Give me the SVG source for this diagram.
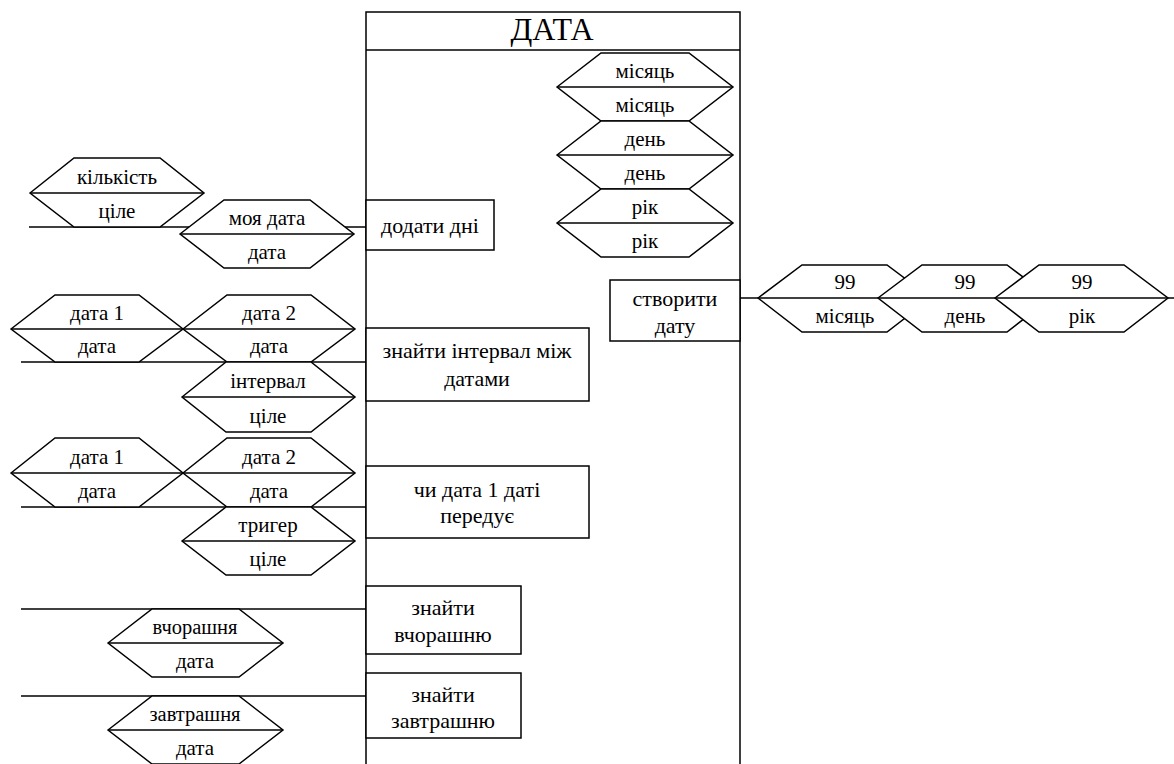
<svg xmlns="http://www.w3.org/2000/svg" width="1174" height="764" viewBox="0 0 1174 764">
  <style>
    .ln { stroke: #000; stroke-width: 1.5; fill: none; }
    .hex { stroke: #000; stroke-width: 1.5; fill: #fff; stroke-linejoin: miter; }
    .box { stroke: #000; stroke-width: 1.5; fill: #fff; }
    text { font-family: "Liberation Serif", "Times New Roman", "DejaVu Serif", serif; font-size: 21px; fill: #000; text-anchor: middle; }
    .title { font-size: 32px; }
    .bx { font-size: 22px; }
    .sm { font-size: 20.5px; }
  </style>

  <!-- class frame -->
  <g id="class-date">
    <rect class="box" x="366" y="12" width="374" height="780"/>
    <line class="ln" x1="366" y1="50" x2="740" y2="50"/>
    <text class="title" x="552" y="40">ДАТА</text>
  </g>

  <!-- connectors -->
  <g id="connectors">
    <line class="ln" x1="29" y1="227" x2="366" y2="227"/>
    <line class="ln" x1="21" y1="362" x2="366" y2="362"/>
    <line class="ln" x1="21" y1="507" x2="366" y2="507"/>
    <line class="ln" x1="21" y1="609" x2="366" y2="609"/>
    <line class="ln" x1="21" y1="696" x2="366" y2="696"/>
    <line class="ln" x1="740" y1="298" x2="1174" y2="298"/>
  </g>

  <!-- attributes -->
  <g id="attr-month">
    <polygon class="hex" points="557,87 601,53 689,53 733,87 689,121 601,121"/>
    <line class="ln" x1="557" y1="87" x2="733" y2="87"/>
    <text x="645" y="78">місяць</text>
    <text x="645" y="112">місяць</text>
  </g>
  <g id="attr-day">
    <polygon class="hex" points="557,155 601,121 689,121 733,155 689,189 601,189"/>
    <line class="ln" x1="557" y1="155" x2="733" y2="155"/>
    <text x="645" y="146">день</text>
    <text x="645" y="180">день</text>
  </g>
  <g id="attr-year">
    <polygon class="hex" points="557,223 601,189 689,189 733,223 689,257 601,257"/>
    <line class="ln" x1="557" y1="223" x2="733" y2="223"/>
    <text x="645" y="214">рік</text>
    <text x="645" y="248">рік</text>
  </g>

  <!-- додати дні -->
  <g id="add-days">
    <rect class="box" x="366" y="200" width="128" height="50"/>
    <text class="bx" x="430" y="233">додати дні</text>
  </g>
  <g id="param-count">
    <polygon class="hex" points="30,193 74,158 160,158 204,193 160,227 74,227"/>
    <line class="ln" x1="30" y1="193" x2="204" y2="193"/>
    <text x="117" y="184">кількість</text>
    <text x="117" y="218">ціле</text>
  </g>
  <g id="param-my-date">
    <polygon class="hex" points="180,234 224,200 310,200 354,234 310,268 224,268"/>
    <line class="ln" x1="180" y1="234" x2="354" y2="234"/>
    <text x="267" y="225">моя дата</text>
    <text x="267" y="259">дата</text>
  </g>

  <!-- знайти інтервал між датами -->
  <g id="find-interval">
    <rect class="box" x="366" y="328" width="223" height="73"/>
    <text class="bx" x="477" y="358">знайти інтервал між</text>
    <text class="bx" x="477" y="386">датами</text>
  </g>
  <g id="interval-date1">
    <polygon class="hex" points="11,329 55,295 139,295 183,329 139,362 55,362"/>
    <line class="ln" x1="11" y1="329" x2="183" y2="329"/>
    <text x="97" y="320">дата 1</text>
    <text x="97" y="353">дата</text>
  </g>
  <g id="interval-date2">
    <polygon class="hex" points="183,329 227,295 311,295 355,329 311,362 227,362"/>
    <line class="ln" x1="183" y1="329" x2="355" y2="329"/>
    <text x="269" y="320">дата 2</text>
    <text x="269" y="353">дата</text>
  </g>
  <g id="interval-result">
    <polygon class="hex" points="182,397 226,362 311,362 355,397 311,432 226,432"/>
    <line class="ln" x1="182" y1="397" x2="355" y2="397"/>
    <text x="268" y="388">інтервал</text>
    <text x="268" y="423">ціле</text>
  </g>

  <!-- чи дата 1 даті передує -->
  <g id="is-before">
    <rect class="box" x="366" y="466" width="223" height="72"/>
    <text class="bx" x="477" y="497">чи дата 1 даті</text>
    <text class="bx" x="477" y="523">передує</text>
  </g>
  <g id="before-date1">
    <polygon class="hex" points="11,473 55,438 139,438 183,473 139,507 55,507"/>
    <line class="ln" x1="11" y1="473" x2="183" y2="473"/>
    <text x="97" y="464">дата 1</text>
    <text x="97" y="498">дата</text>
  </g>
  <g id="before-date2">
    <polygon class="hex" points="183,473 227,438 311,438 355,473 311,507 227,507"/>
    <line class="ln" x1="183" y1="473" x2="355" y2="473"/>
    <text x="269" y="464">дата 2</text>
    <text x="269" y="498">дата</text>
  </g>
  <g id="before-result">
    <polygon class="hex" points="182,541 226,507 311,507 355,541 311,575 226,575"/>
    <line class="ln" x1="182" y1="541" x2="355" y2="541"/>
    <text x="268" y="532">тригер</text>
    <text x="268" y="566">ціле</text>
  </g>

  <!-- знайти вчорашню -->
  <g id="find-yesterday">
    <rect class="box" x="366" y="586" width="155" height="68"/>
    <text class="bx" x="443" y="615">знайти</text>
    <text class="bx" x="443" y="642">вчорашню</text>
  </g>
  <g id="yesterday-result">
    <polygon class="hex" points="108,643 152,609 239,609 283,643 239,677 152,677"/>
    <line class="ln" x1="108" y1="643" x2="283" y2="643"/>
    <text class="sm" x="195" y="634">вчорашня</text>
    <text x="195" y="668">дата</text>
  </g>

  <!-- знайти завтрашню -->
  <g id="find-tomorrow">
    <rect class="box" x="366" y="673" width="155" height="65"/>
    <text class="bx" x="443" y="702">знайти</text>
    <text class="bx" x="443" y="728">завтрашню</text>
  </g>
  <g id="tomorrow-result">
    <polygon class="hex" points="108,730 152,696 239,696 283,730 239,764 152,764"/>
    <line class="ln" x1="108" y1="730" x2="283" y2="730"/>
    <text class="sm" x="195" y="721">завтрашня</text>
    <text x="195" y="755">дата</text>
  </g>

  <!-- створити дату -->
  <g id="create-date">
    <rect class="box" x="610" y="280" width="130" height="61"/>
    <text class="bx" x="675" y="306">створити</text>
    <text class="bx" x="675" y="333">дату</text>
  </g>
  <g id="create-month">
    <polygon class="hex" points="758,298 802,265 887,265 931,298 887,332 802,332"/>
    <line class="ln" x1="758" y1="298" x2="931" y2="298"/>
    <text x="845" y="289">99</text>
    <text x="845" y="323">місяць</text>
  </g>
  <g id="create-day">
    <polygon class="hex" points="878,298 922,265 1007,265 1051,298 1007,332 922,332"/>
    <line class="ln" x1="878" y1="298" x2="1051" y2="298"/>
    <text x="965" y="289">99</text>
    <text x="965" y="323">день</text>
  </g>
  <g id="create-year">
    <polygon class="hex" points="995,298 1039,265 1124,265 1168,298 1124,332 1039,332"/>
    <line class="ln" x1="995" y1="298" x2="1168" y2="298"/>
    <text x="1082" y="289">99</text>
    <text x="1082" y="323">рік</text>
  </g>
</svg>
